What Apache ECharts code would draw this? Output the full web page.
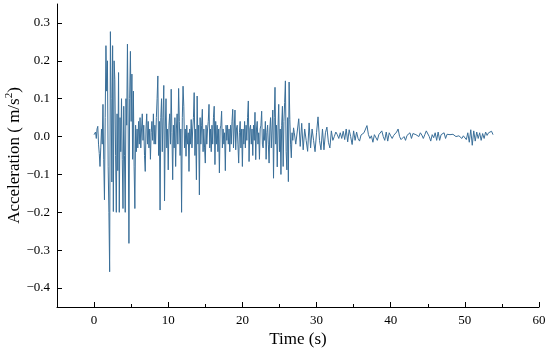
<!DOCTYPE html>
<html>
<head>
<meta charset="utf-8">
<script src="https://cdn.jsdelivr.net/npm/echarts@6/dist/echarts.min.js"></script>
<style>html,body{margin:0;padding:0;background:#fff}#c{width:550px;height:361px}</style>
</head>
<body>
<div id="c"></div>
<script>
// Strong-motion phase: samples every 0.1 s starting at 0.0 s (one row = 1 s)
const strongStart = 0.0;
const strongStep = 0.1;
const strongAccel = [
  0.005, 0.002, 0.012, -0.005, 0.02, 0.027, -0.02, -0.045, -0.079, -0.03,
  0.02, -0.02, 0.085, -0.06, -0.167, 0.05, 0.24, 0.12, 0.2, -0.08,
  -0.2, -0.357, 0.277, 0.1, -0.12, 0.24, -0.198, 0.2, 0.15, -0.05,
  -0.2, 0.06, -0.09, 0.169, -0.2, 0.05, -0.04, 0.1, -0.06, -0.19,
  0.08, -0.05, -0.2, 0.1, 0.03, 0.244, 0.02, -0.282, 0.1, 0.225,
  0.04, 0.165, -0.06, 0.12, -0.08, -0.19, 0.03, -0.04, 0.02, -0.03,
  0.04, -0.02, 0.05, -0.03, 0.02, 0.06, -0.01, 0.03, -0.05, -0.092,
  0.02, 0.06, -0.02, 0.04, -0.03, 0.02, -0.06, 0.01, 0.04, -0.01,
  0.06, -0.02, 0.03, -0.02, 0.05, 0.1, 0.16, -0.05, 0.04, -0.194,
  0.05, 0.1, -0.04, 0.05, 0.135, -0.17, 0.02, 0.1, -0.03, 0.02,
  -0.088, 0.03, 0.06, -0.02, 0.125, 0.01, -0.114, 0.03, -0.03, 0.05,
  -0.079, 0.02, 0.06, -0.02, 0.127, 0.04, -0.05, 0.02, -0.2, 0.05,
  0.133, 0.08, -0.03, 0.02, -0.052, 0.03, -0.02, 0.01, -0.092, 0.02,
  -0.02, 0.045, -0.03, 0.02, 0.05, 0.116, -0.05, 0.02, -0.114, 0.107,
  -0.02, 0.03, -0.154, 0.05, -0.02, 0.03, 0.072, -0.04, 0.02, -0.03,
  -0.07, 0.03, -0.02, 0.02, 0.04, 0.085, -0.03, 0.02, -0.04, 0.03,
  -0.02, 0.05, 0.08, -0.074, 0.04, -0.02, 0.03, -0.04, 0.02, -0.096,
  0.02, 0.03, 0.067, -0.03, 0.02, -0.02, 0.01, -0.09, 0.03, -0.01,
  0.03, -0.02, 0.02, -0.04, 0.03, -0.02, 0.04, 0.072, -0.03, 0.02,
  0.07, -0.035, 0.02, 0.03, -0.02, -0.07, 0.01, 0.04, -0.03, 0.02,
  -0.079, 0.02, -0.02, 0.04, -0.03, 0.03, -0.01, 0.05, 0.094, -0.066,
  0.02, 0.03, -0.02, 0.02, -0.05, 0.03, -0.01, 0.064, -0.061, 0.02,
  0.04, -0.02, 0.01, -0.06, 0.02, 0.03, 0.067, -0.02, -0.03, 0.02,
  -0.01, 0.04, -0.06, 0.01, 0.03, -0.02, -0.07, 0.02, 0.05, -0.03,
  0.02, 0.07, -0.11, 0.05, 0.13, -0.02, 0.03, -0.08, 0.02, 0.085,
  -0.04, 0.02, -0.1, 0.03, 0.08, -0.079, 0.04, 0.09, 0.147, -0.04,
  -0.088, 0.05, -0.119, 0.144, 0.045, -0.02, -0.056, 0.01, -0.01, 0.023,
  0.01
];
// Coda phase: samples every 0.2 s starting at 27.2 s (one row = 2 s)
const codaStart = 27.2;
const codaStep = 0.2;
const codaAccel = [
  -0.02, -0.021, 0.047, -0.026, 0.035, -0.035, 0.02, -0.01, -0.039, 0.036,
  -0.03, 0.02, -0.01, -0.04, 0.01, 0.052, -0.01, -0.035, 0.02, -0.035,
  0.01, 0.025, -0.015, -0.03, 0.015, -0.01, 0.0, 0.012, 0.005, -0.005,
  0.01, -0.005, 0.014, -0.008, 0.02, -0.014, 0.018, 0.0, -0.021, 0.015,
  -0.01, 0.012, -0.005, -0.012, 0.004, 0.0, 0.01, 0.015, 0.029, 0.005,
  -0.005, 0.002, -0.015, 0.005, 0.01, -0.01, 0.005, 0.01, 0.015, 0.0,
  -0.01, 0.012, -0.012, 0.01, 0.002, -0.005, 0.003, 0.005, 0.012, 0.02,
  0.0, -0.008, -0.012, 0.0, -0.01, 0.003, 0.0, 0.01, -0.005, 0.008,
  0.003, 0.005, 0.008, 0.0, 0.01, 0.004, -0.005, 0.005, 0.015, 0.014,
  0.0, -0.012, 0.005, -0.003, 0.01, -0.01, 0.012, -0.01, 0.005, 0.0,
  0.01, -0.005, 0.006, 0.01, 0.005, 0.003, 0.006, 0.004, 0.0, 0.003,
  0.002, 0.0, -0.005, 0.002, 0.003, -0.008, 0.01, -0.015, 0.018, -0.023,
  0.015, -0.012, 0.012, -0.005, 0.01, -0.01, 0.008, -0.005, 0.012, 0.003,
  0.01, 0.008, 0.014, 0.005
];
const xMajorTicks = [0, 10, 20, 30, 40, 50, 60];
const xMinorTicks = [5, 15, 25, 35, 45, 55];
const yTicks = [-0.4, -0.3, -0.2, -0.1, 0.0, 0.1, 0.2, 0.3];

const points = [];
strongAccel.forEach((a, i) => points.push([+(strongStart + i * strongStep).toFixed(2), a]));
codaAccel.forEach((a, i) => points.push([+(codaStart + i * codaStep).toFixed(2), a]));

const font = 'Liberation Serif, Times New Roman, serif';
const chart = echarts.init(document.getElementById('c'), null, {renderer: 'canvas'});
chart.setOption({
  animation: false,
  backgroundColor: '#fff',
  grid: {left: 57, right: 11, top: 4, bottom: 54, containLabel: false, outerBoundsMode: 'none'},
  xAxis: [{
    type: 'value', min: -5, max: 60,
    name: 'Time (s)', nameLocation: 'middle', nameGap: 24, nameMoveOverlap: false,
    nameTextStyle: {fontFamily: font, fontSize: 17, color: '#000'},
    axisLine: {show: true, onZero: false, lineStyle: {color: '#000', width: 1}},
    axisTick: {show: true, inside: true, length: 5, customValues: xMajorTicks, lineStyle: {color: '#000'}},
    axisLabel: {customValues: xMajorTicks, margin: 7, fontFamily: font, fontSize: 13, color: '#000'},
    splitLine: {show: false}
  }, {
    type: 'value', min: -5, max: 60, position: 'bottom', gridIndex: 0,
    axisLine: {show: false, onZero: false},
    axisTick: {show: true, inside: true, length: 3, customValues: xMinorTicks, lineStyle: {color: '#000'}},
    axisLabel: {show: false},
    splitLine: {show: false}
  }],
  yAxis: {
    type: 'value', min: -0.45, max: 0.35,
    name: '{a|Acceleration ( m/s}{s|2}{a|)}', nameLocation: 'middle', nameGap: 34, nameRotate: 90,
    nameMoveOverlap: false,
    nameTextStyle: {fontFamily: font, fontSize: 17, color: '#000',
      rich: {
        a: {fontFamily: font, fontSize: 17, color: '#000', verticalAlign: 'bottom', lineHeight: 20},
        s: {fontFamily: font, fontSize: 11, color: '#000', verticalAlign: 'bottom', lineHeight: 20, padding: [0, 0, 8, 0]}
      }},
    axisLine: {show: true, onZero: false, lineStyle: {color: '#000', width: 1}},
    axisTick: {show: true, inside: true, length: 5, customValues: yTicks, lineStyle: {color: '#000'}},
    axisLabel: {customValues: yTicks, margin: 7, fontFamily: font, fontSize: 13, color: '#000',
      formatter: v => (v < 0 ? '\u2212' : '') + Math.abs(v).toFixed(1)},
    splitLine: {show: false}
  },
  series: [{
    type: 'line', xAxisIndex: 0, data: points, showSymbol: false, symbol: 'none',
    sampling: 'none',
    lineStyle: {color: '#3a6f99', width: 1},
    z: 3
  }]
});
</script>
</body>
</html>
